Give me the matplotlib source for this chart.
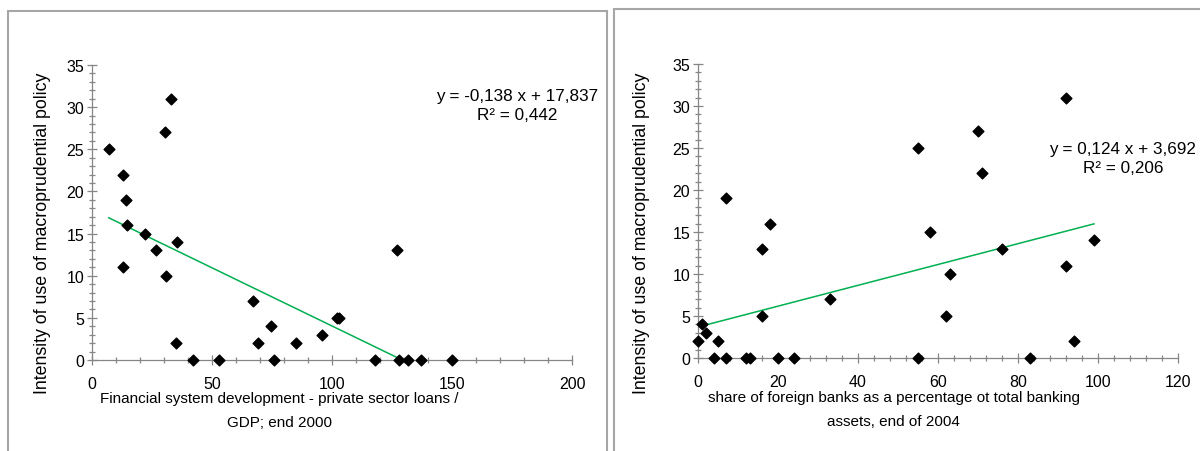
import matplotlib
matplotlib.use("Agg")
import matplotlib.pyplot as plt
import numpy as np
from matplotlib.patches import Rectangle
from matplotlib.ticker import MultipleLocator

plt.rcParams.update({
    "font.family": ["Liberation Sans", "DejaVu Sans"],
    "font.size": 11,
})

# left panel: private sector loans / GDP vs intensity
fin_dev = [7, 13, 14, 14.5, 13, 22, 26.5, 31, 30.5, 33, 35.5, 35, 42, 53,
           67, 69, 74.5, 76, 85, 96, 102, 103, 127, 118, 128, 131.5, 137, 150]
fin_int = [25, 22, 19, 16, 11, 15, 13, 10, 27, 31, 14, 2, 0, 0,
           7, 2, 4, 0, 2, 3, 5, 5, 13, 0, 0, 0, 0, 0]

# right panel: share of foreign banks vs intensity
foreign = [0, 1, 2, 4, 5, 7, 7, 12, 13, 16, 16, 18, 20, 24, 33, 55, 55, 58,
           62, 63, 70, 71, 76, 83, 92, 92, 94, 99]
for_int = [2, 4, 3, 0, 2, 0, 19, 0, 0, 13, 5, 16, 0, 0, 7, 25, 0, 15,
           5, 10, 27, 22, 13, 0, 31, 11, 2, 14]

fit_left = (-0.138, 17.837)
fit_right = (0.124, 3.692)

AX_COL = "#868686"
LINE_COL = "#00B050"
YLABEL = "Intensity of use of macroprudential policy"

fig = plt.figure(figsize=(12, 4.52), dpi=100)

# panel frames
fig.patches.append(Rectangle((8 / 1200, -0.2), 599 / 1200, 1.2 - 12 / 452,
                             transform=fig.transFigure, fill=False,
                             ec="#A6A6A6", lw=1.5))
fig.patches.append(Rectangle((614 / 1200, -0.2), 0.6, 1.2 - 10 / 452,
                             transform=fig.transFigure, fill=False,
                             ec="#A6A6A6", lw=1.5))


def style(ax, xmax, xmaj, xmin):
    ax.set_ylim(0, 35)
    ax.set_xlim(0, xmax)
    for s in ["top", "right"]:
        ax.spines[s].set_visible(False)
    for s in ["left", "bottom"]:
        ax.spines[s].set_color(AX_COL)
        ax.spines[s].set_linewidth(0.9)
    ax.xaxis.set_major_locator(MultipleLocator(xmaj))
    ax.xaxis.set_minor_locator(MultipleLocator(xmin))
    ax.yaxis.set_major_locator(MultipleLocator(5))
    ax.yaxis.set_minor_locator(MultipleLocator(1))
    ax.tick_params(which="major", direction="inout", length=7, width=0.9,
                   color=AX_COL, labelsize=11.5)
    ax.tick_params(which="minor", direction="inout", length=4.5, width=0.9,
                   color=AX_COL)
    ax.tick_params(axis="x", which="major", pad=8)
    ax.tick_params(axis="y", which="major", pad=2)
    ax.patch.set_alpha(0)


ax1 = fig.add_axes([92 / 1200, 91 / 452, 480 / 1200, 295 / 452])
style(ax1, 200, 50, 10)
ax1.scatter(fin_dev, fin_int, marker="D", s=30, color="black", zorder=3,
            clip_on=False)
xs = np.array([min(fin_dev), max(fin_dev)])
ax1.plot(xs, fit_left[0] * xs + fit_left[1], color=LINE_COL, lw=1.1, zorder=2)
fig.text(43 / 1200, 1 - 233 / 452, YLABEL, rotation=90, ha="center",
         va="center", fontsize=12.8)
ax1.text(0.39, -0.105, "Financial system development - private sector loans /\nGDP; end 2000",
         transform=ax1.transAxes, ha="center", va="top", fontsize=11,
         linespacing=1.9)
ax1.text(0.885, 0.865, "y = -0,138 x + 17,837\nR\u00b2 = 0,442",
         transform=ax1.transAxes, ha="center", va="center", fontsize=12.3,
         linespacing=1.35)

ax2 = fig.add_axes([698 / 1200, 93 / 452, 480 / 1200, 294 / 452])
style(ax2, 120, 20, 4)
ax2.scatter(foreign, for_int, marker="D", s=30, color="black", zorder=3,
            clip_on=False)
xs = np.array([min(foreign), max(foreign)])
ax2.plot(xs, fit_right[0] * xs + fit_right[1], color=LINE_COL, lw=1.1, zorder=2)
fig.text(641 / 1200, 1 - 233 / 452, YLABEL, rotation=90, ha="center",
         va="center", fontsize=12.8)
ax2.text(0.408, -0.11, "share of foreign banks as a percentage ot total banking\nassets, end of 2004",
         transform=ax2.transAxes, ha="center", va="top", fontsize=11,
         linespacing=1.9)
ax2.text(0.885, 0.68, "y = 0,124 x + 3,692\nR\u00b2 = 0,206",
         transform=ax2.transAxes, ha="center", va="center", fontsize=12.3,
         linespacing=1.35)

fig.savefig("out.png", dpi=100)
